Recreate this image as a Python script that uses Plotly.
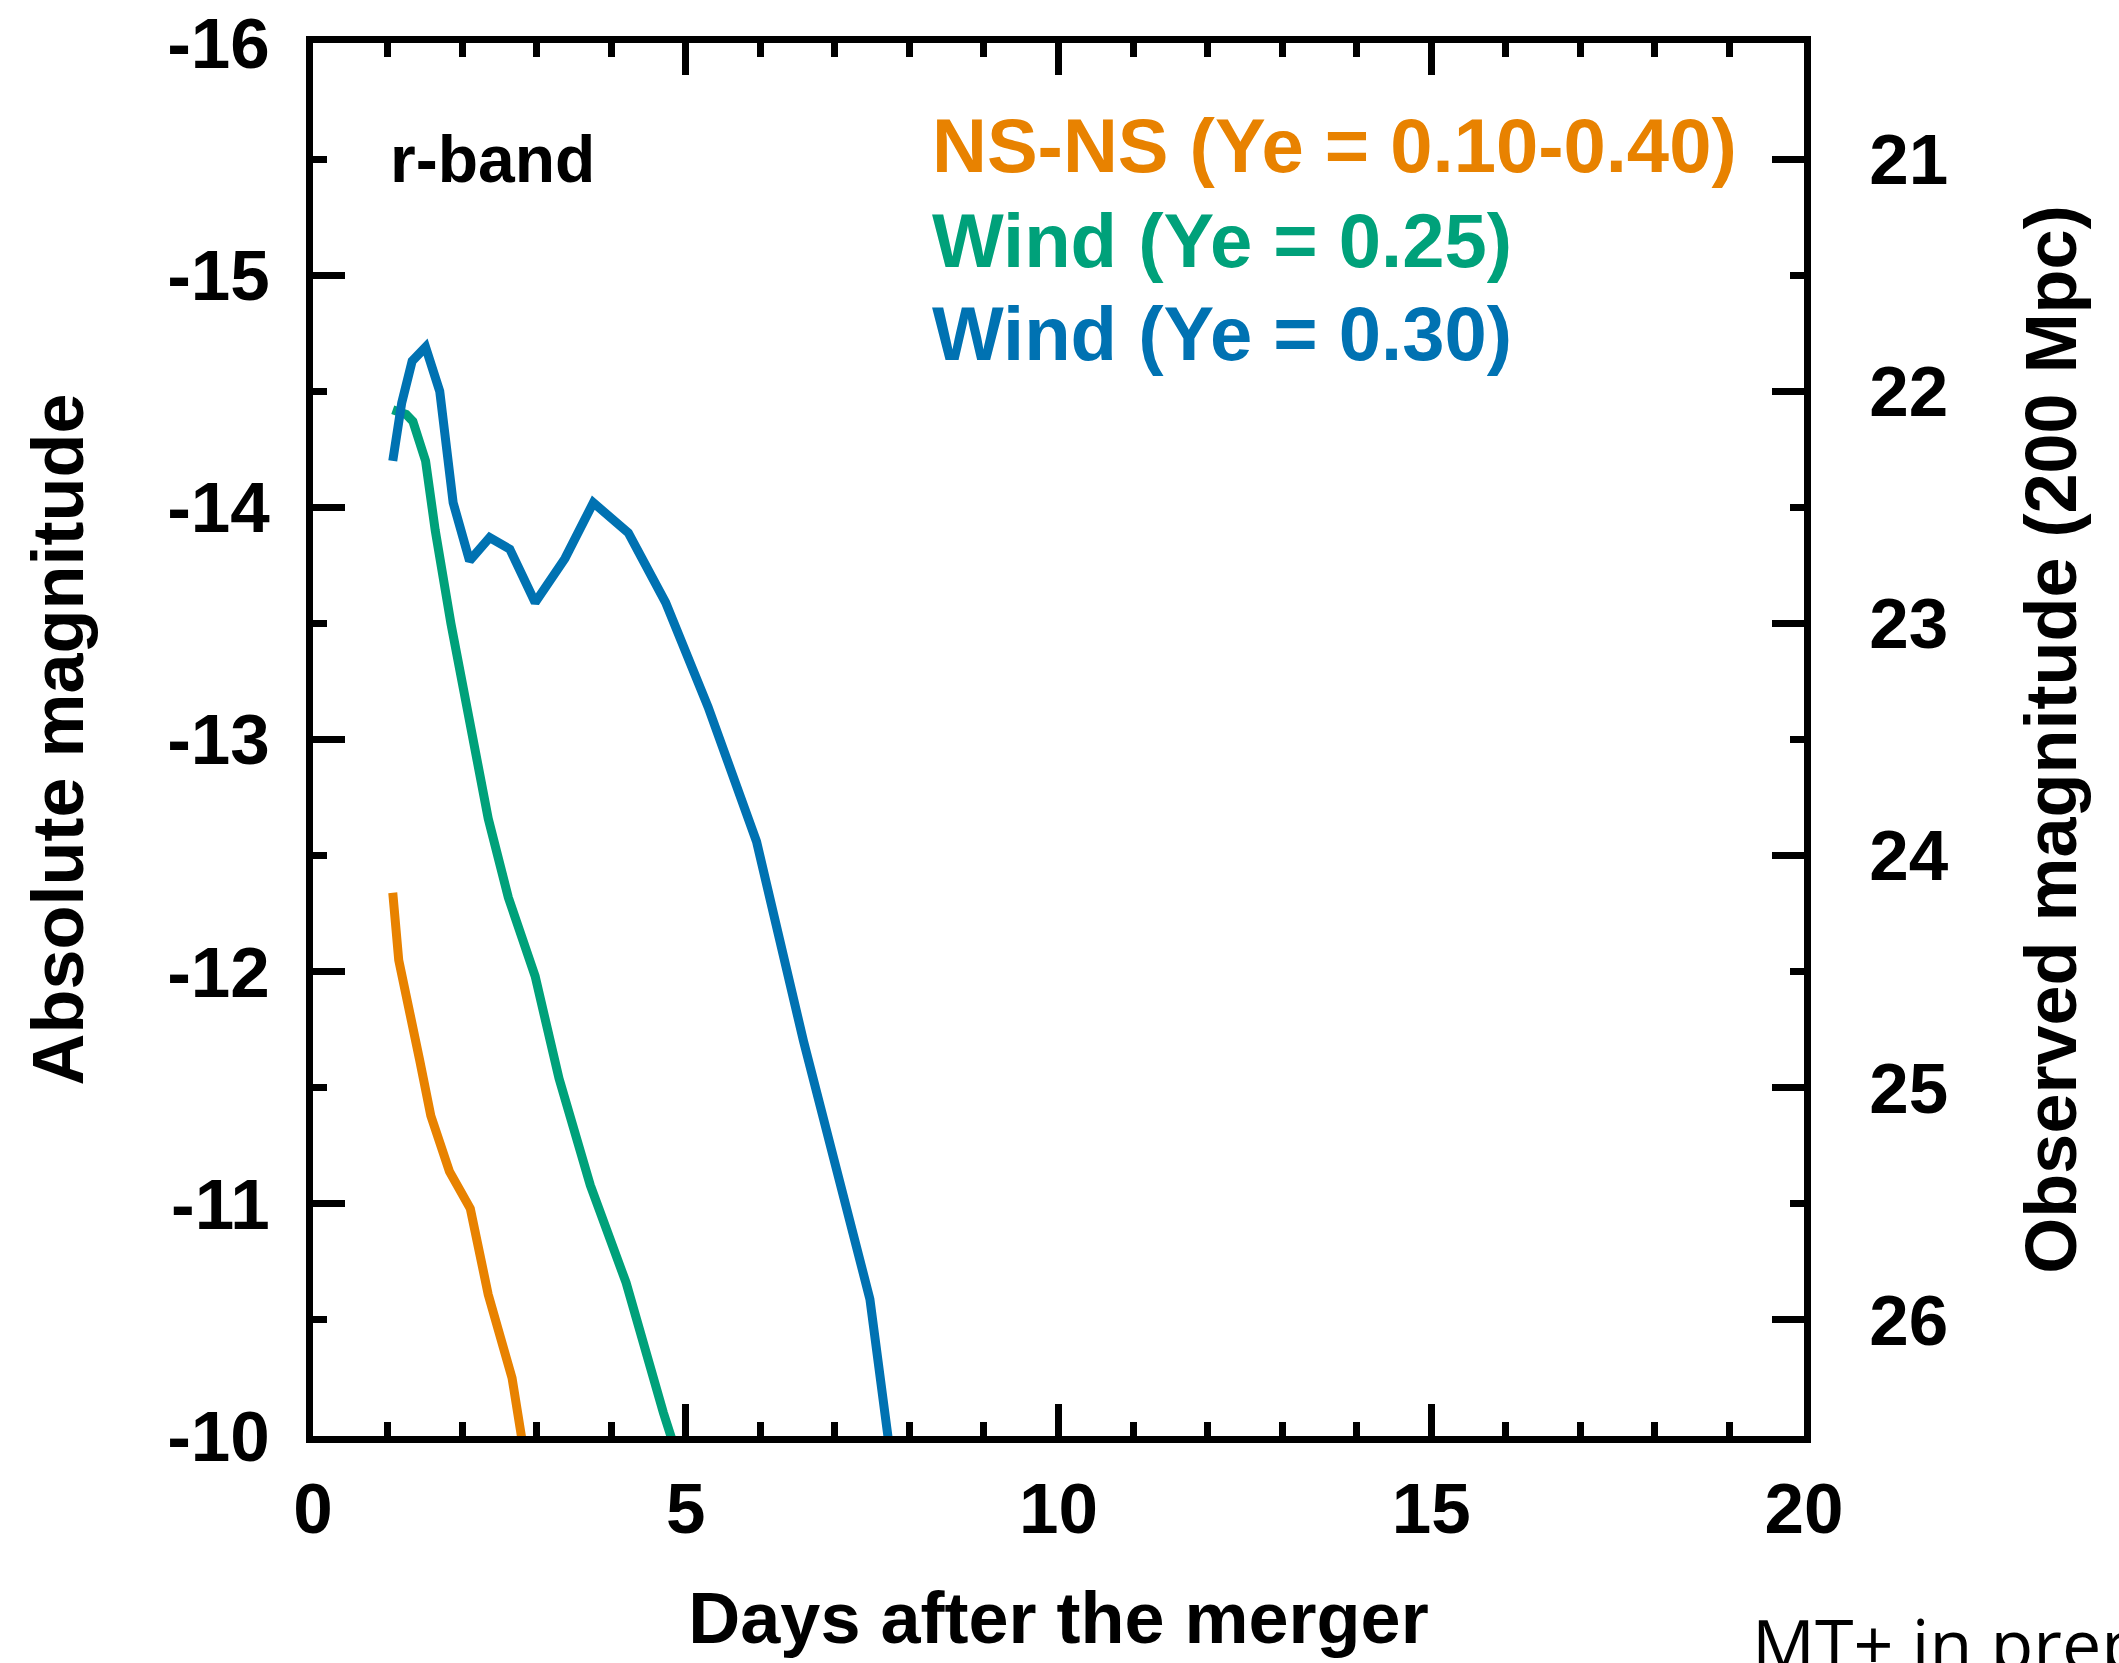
import plotly.graph_objects as go

# ---- data ----
ns_days = [1.07, 1.15, 1.43, 1.58, 1.83, 2.11, 2.35, 2.67, 2.83]
ns_mag = [-12.34, -12.05, -11.62, -11.38, -11.14, -10.98, -10.61, -10.25, -9.93]

w25_days = [1.07, 1.25, 1.34, 1.51, 1.64, 1.85, 2.35, 2.62, 2.98, 3.30, 3.72, 4.20, 4.70, 4.85]
w25_mag = [-14.42, -14.40, -14.37, -14.20, -13.90, -13.50, -12.66, -12.32, -11.98, -11.54, -11.08, -10.66, -10.10, -9.95]

w30_days = [1.07, 1.19, 1.33, 1.51, 1.70, 1.88, 2.10, 2.37, 2.64, 2.98, 3.38, 3.76, 4.23, 4.73, 5.30, 5.95, 6.58, 7.47, 7.74]
w30_mag = [-14.20, -14.45, -14.63, -14.69, -14.50, -14.02, -13.77, -13.87, -13.82, -13.59, -13.78, -14.02, -13.89, -13.59, -13.14, -12.56, -11.70, -10.59, -9.93]

series_names = ["NS-NS (Ye = 0.10-0.40)", "Wind (Ye = 0.25)", "Wind (Ye = 0.30)"]
series_colors = ["#E88200", "#00A17A", "#0072B2"]

x_tickvals = [0, 5, 10, 15, 20]
x_ticktext = ["0", "5", "10", "15", "20"]
y_tickvals = [-16, -15, -14, -13, -12, -11, -10]
y_ticktext = ["-16", "-15", "-14", "-13", "-12", "-11", "-10"]
y2_tickvals = [21, 22, 23, 24, 25, 26]
y2_ticktext = ["21", "22", "23", "24", "25", "26"]
distance_modulus = 36.5  # 200 Mpc

FONT = "Liberation Sans"
W, H = 2119, 1663
ML, MR, MT, MB = 313, 315, 43, 227

fig = go.Figure()
for d, m, c in zip([ns_days, w25_days, w30_days], [ns_mag, w25_mag, w30_mag], series_colors):
    fig.add_trace(go.Scatter(x=d, y=m, mode="lines", line=dict(color=c, width=9),
                             showlegend=False, hoverinfo="skip"))
# invisible trace to carry the right axis
fig.add_trace(go.Scatter(x=[0], y=[21], yaxis="y2", mode="markers",
                         marker=dict(opacity=0), showlegend=False, hoverinfo="skip"))

tickfont = dict(family=FONT, size=71, color="black", weight="bold")
titlefont = dict(family=FONT, size=72, color="black", weight="bold")
minor_y = dict(dtick=0.5, ticks="inside", ticklen=14, tickwidth=7, tickcolor="black")

fig.update_layout(
    width=W, height=H,
    margin=dict(l=ML, r=MR, t=MT, b=MB, autoexpand=False),
    paper_bgcolor="white", plot_bgcolor="white",
    xaxis=dict(range=[0, 20], tickvals=x_tickvals, ticktext=x_ticktext,
               ticks="inside", ticklen=32, tickwidth=7, tickcolor="black",
               minor=dict(dtick=1, ticks="inside", ticklen=14, tickwidth=7, tickcolor="black"),
               showline=True, linewidth=7, linecolor="black", mirror="ticks",
               showgrid=False, zeroline=False, tickfont=tickfont, ticklabelstandoff=5,
               automargin=False, ticklabeloverflow="allow",
               title=dict(text="Days after the merger", font=titlefont, standoff=48)),
    yaxis=dict(range=[-10, -16], tickvals=y_tickvals, ticktext=y_ticktext,
               ticks="inside", ticklen=32, tickwidth=7, tickcolor="black",
               minor=minor_y,
               showline=True, linewidth=7, linecolor="black", mirror=True,
               showgrid=False, zeroline=False, tickfont=tickfont, ticklabelstandoff=22,
               automargin=False, ticklabeloverflow="allow",
               title=dict(text="Absolute magnitude", font=titlefont, standoff=62)),
    yaxis2=dict(overlaying="y", side="right",
                range=[-10 + distance_modulus, -16 + distance_modulus],
                tickvals=y2_tickvals, ticktext=y2_ticktext,
                ticks="inside", ticklen=32, tickwidth=7, tickcolor="black",
                minor=minor_y,
                showline=True, linewidth=7, linecolor="black",
                showgrid=False, zeroline=False, tickfont=tickfont, ticklabelstandoff=44,
                automargin=False, ticklabeloverflow="allow",
                title=dict(text="Observed magnitude (200 Mpc)", font=titlefont, standoff=80)),
)

annotations = [
    dict(x=1.0, y=-15.5, xref="x", yref="y", text="r-band", showarrow=False,
         xanchor="left", yanchor="middle", font=dict(family=FONT, size=66, color="black", weight="bold")),
]
legend_y = [-15.56, -15.15, -14.75]
for name, col, yy in zip(series_names, series_colors, legend_y):
    annotations.append(dict(x=8.28, y=yy, xref="x", yref="y", text=name, showarrow=False,
                            xanchor="left", yanchor="middle",
                            font=dict(family=FONT, size=76, color=col, weight="bold")))
# credit line below the plot (pixel position converted to paper coordinates)
pw, ph = W - ML - MR, H - MT - MB
annotations.append(dict(x=(1750 - ML) / pw, y=-(1643 - (H - MB)) / ph, xref="paper", yref="paper",
                        text="MT+ in prep", showarrow=False, xanchor="left", yanchor="middle",
                        font=dict(family="Open Sans", size=70, color="black")))
fig.update_layout(annotations=annotations)

fig.write_html("out.html")
